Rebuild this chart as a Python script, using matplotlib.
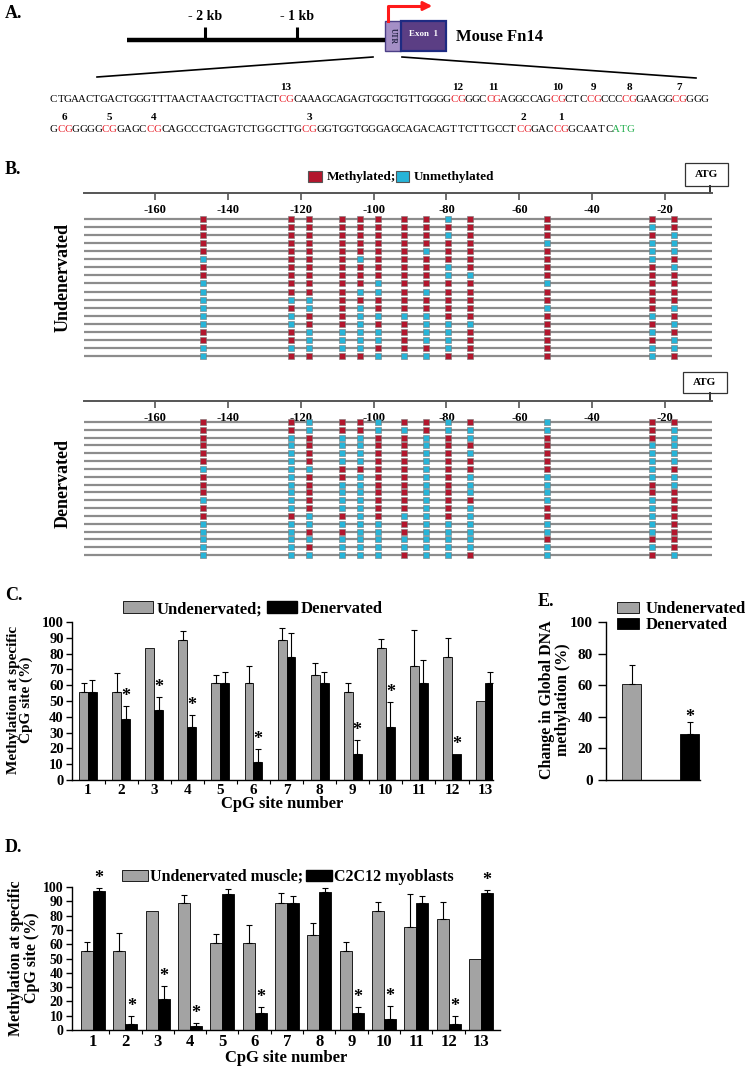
import re
import numpy as np
import matplotlib
matplotlib.use("Agg")
import matplotlib.pyplot as plt
from matplotlib.path import Path
from matplotlib.patches import Rectangle, Patch

plt.rcParams['font.family'] = ['Liberation Serif', 'DejaVu Serif']
plt.rcParams['font.weight'] = 'bold'
plt.rcParams['axes.labelweight'] = 'bold'
plt.rcParams['axes.linewidth'] = 1.0
plt.rcParams['axes.unicode_minus'] = False

W, H = 745, 1066

# ---------------- data ----------------
# A: promoter map (kb) and sequence
kb_ticks = [-2, -1]
kb_tick_labels = ['- 2 kb', '- 1 kb']
promoter_start_kb = -2.85
utr_kb = (-0.04, 0.13)
exon_kb = (0.13, 0.62)
seq_rows = ["CTGAACTGACTGGGTTTAACTAACTGCTTACTCGCAAAGCAGAGTGGCTGTTGGGGCGGGCCGAGGCCAGCGCTCCGCCCCGGAAGGCGGGG",
            "GCGGGGGCGGAGCCGCAGCCCTGAGTCTGGCTTGCGGGTGGTGGGAGCAGACAGTTCTTGCCTCGGACCGGCAATCATG"]

# B: CpG positions (bp from ATG), sites 13 -> 1, and clone calls (M/U) per site, 18 clones
ruler_ticks = [-160, -140, -120, -100, -80, -60, -40, -20]
cpg_bp = [-146.7, -122.6, -117.6, -108.8, -103.7, -98.7, -91.6, -85.6, -79.6, -73.6, -52.5, -23.7, -17.6]
undenervated_clones = [
    "MMMMMUMMUUUUUUMMUU",  # site 13
    "MMMMMMMMMMUMUUMMUM",  # 12
    "MMMMMMMMMMUUMMUUUM",  # 11
    "MMMMMMMMMMMMMMUUUM",  # 10
    "MMMMMUMMMUMUUUUUUM",  # 9
    "MMMMMMMMUUMMUMUUMU",  # 8
    "MMMMMMMMMMMMUMMMMU",  # 7
    "MMMMUMMMMUMMUUUUMU",  # 6
    "UMUMMMUUMMMMMUUUUM",  # 5
    "MMMMMMMUMMMMMUMMMM",  # 4
    "MMMUMMMMUMMUMMMMMM",  # 3
    "MUMUUUMMMMMMUMUMUU",  # 2
    "MMUUUMUMMMMUMUMUUM",  # 1
]
denervated_clones = [
    "MMMMMMUMMMUMMUUUUU",  # site 13
    "MMUUUUUUUUUUMUUUUU",  # 12
    "UUMMMMUMMMMMUUMUMU",  # 11
    "MMUUUUMMUUUUMUMUUU",  # 10
    "MMUUUUMUUUUUUUUUUU",  # 9
    "UUMMMMMMMMMMMUUUUU",  # 8
    "MUMMMMMMMMMMUMMUUM",  # 7
    "MMUUUUUUUUUUUUUUUU",  # 6
    "UUMMMMMMMMMMMUUUUU",  # 5
    "MUUMUMMUUUMUUUUUUM",  # 4
    "UUMMMMMUUUUMMUUMUU",  # 3
    "MMMUUUUUMMUUUUUMUM",  # 2
    "MUUUUUMUUMMMMMMMMU",  # 1
]

# C: site-specific methylation, undenervated vs denervated
sites = list(range(1, 14))
c_undenervated = [55.5, 55.5, 83.3, 88.9, 61.1, 61.1, 88.9, 66.7, 55.5, 83.3, 72.2, 77.8, 50.0]
c_undenervated_err = [6, 12, 0, 5.5, 5.5, 11, 7, 7.5, 6, 6, 23, 12, 0]
c_denervated = [55.5, 38.9, 44.4, 33.3, 61.1, 11.1, 77.8, 61.1, 16.7, 33.3, 61.1, 16.7, 61.1]
c_denervated_err = [8, 8, 8, 8, 7.5, 8.5, 15, 7.5, 8.5, 16, 15, 0, 7.5]
c_star = [2, 3, 4, 6, 9, 10, 12]

# D: undenervated muscle vs C2C12 myoblasts
d_muscle = [55.5, 55.5, 83.3, 88.9, 61.1, 61.1, 88.9, 66.7, 55.5, 83.3, 72.2, 77.8, 50.0]
d_muscle_err = [6, 12, 0, 5.5, 6, 12, 7, 8, 6, 6, 23, 12, 0]
d_c2c12 = [97.5, 4.5, 22, 2.5, 95, 12, 89, 96.5, 12, 7.5, 89, 4.5, 96]
d_c2c12_err = [2, 5.5, 9, 2.5, 3.5, 4, 5, 3, 4, 9.5, 4.5, 5.5, 2]
d_star = [1, 2, 3, 4, 6, 9, 10, 12, 13]

# E: global DNA methylation
e_groups = ['Undenervated', 'Denervated']
e_values = [61, 29]
e_err = [12, 8]
e_star = ['Denervated']

GREY = '#a3a3a3'
RED = '#b3162d'
CYAN = '#27b4d8'

fig = plt.figure(figsize=(W / 100, H / 100), dpi=100)


def px_axes(x0, y0, x1, y1):
    return fig.add_axes([x0 / W, 1 - y1 / H, (x1 - x0) / W, (y1 - y0) / H])


# ---------------- A: gene map ----------------
ga = px_axes(0, 0, W, 60)
ga.set_xlim(-389 / 92, (W - 389) / 92)
ga.set_ylim(60, 0)
ga.axis('off')
ga.plot([promoter_start_kb, utr_kb[0]], [40, 40], color='black', lw=3.2, solid_capstyle='butt')
ga.vlines(kb_ticks, 27, 40, color='black', lw=2.2)
for k, lab in zip(kb_ticks, kb_tick_labels):
    ga.text(k, 17, lab, ha='center', va='center', fontsize=10)
ga.add_patch(Rectangle((utr_kb[0], 21), utr_kb[1] - utr_kb[0], 30, fc='#a48fc6', ec='#4b3f86', lw=1))
ga.add_patch(Rectangle((exon_kb[0], 21), exon_kb[1] - exon_kb[0], 30, fc='#5b3e84', ec='#1e2b82', lw=1.6))
ga.text(sum(utr_kb) / 2, 36, 'UTR', rotation=-90, ha='center', va='center', fontsize=5.5, color='#222244')
ga.text(sum(exon_kb) / 2, 34, 'Exon  1', ha='center', va='center', fontsize=6.5, color='white')
ga.plot([-0.01, -0.01, 0.38], [21, 6, 6], color='#ff1a1a', lw=2.2)
ga.annotate('', xy=(0.5, 6), xytext=(0.36, 6),
            arrowprops=dict(arrowstyle='-|>', color='#ff1a1a', lw=2, mutation_scale=13))
ga.text(0.73, 37, 'Mouse Fn14', ha='left', va='center', fontsize=12)

# ---------------- overlay (labels, sequence, decorations) ----------------
ov = px_axes(0, 0, W, H)
ov.set_xlim(0, W)
ov.set_ylim(H, 0)
ov.axis('off')
ov.patch.set_visible(False)

for lab, x, y in [('A.', 5, 13), ('B.', 5, 170), ('C.', 5, 595), ('D.', 5, 848), ('E.', 538, 602)]:
    ov.text(x, y, lab, ha='left', va='center', fontsize=13)

ov.plot([373, 97], [57, 77], color='black', lw=1.2)
ov.plot([402, 696], [57, 78], color='black', lw=1.2)

cg_num = 13
for r, (seq, y) in enumerate(zip(seq_rows, [100, 130])):
    step = 7.15 if r == 0 else 7.4
    colors = ['black'] * len(seq)
    for m in re.finditer('CG', seq):
        colors[m.start()] = colors[m.start() + 1] = '#e8202a'
        ov.text(50 + (m.start() + 1) * step, y - 12, str(cg_num), ha='center', va='center', fontsize=8)
        cg_num -= 1
    if seq.endswith('ATG'):
        for i in range(len(seq) - 3, len(seq)):
            colors[i] = '#1fae4a'
    for i, ch in enumerate(seq):
        ov.text(50 + (i + 0.5) * step, y, ch, ha='center', va='center', fontsize=7.8,
                fontweight='normal', color=colors[i])

# legend for B
ov.add_patch(Rectangle((308, 171), 14, 11, fc=RED, ec='#555555', lw=0.8))
ov.text(327, 177, 'Methylated;', ha='left', va='center', fontsize=9.5)
ov.add_patch(Rectangle((396, 171), 13, 11, fc=CYAN, ec='#555555', lw=0.8))
ov.text(414, 177, 'Unmethylated', ha='left', va='center', fontsize=9.5)

# ---------------- B: methylation maps ----------------
BX0, BX1 = 84, 712.4
BP_LIM = (-179.5, -7)
mk = Path([(-0.4, -0.5), (0.4, -0.5), (0.4, 0.5), (-0.4, 0.5), (-0.4, -0.5)])


def methyl_panel(y_ruler, y_first, y_last, clones, label, label_y, atg):
    ruler = px_axes(BX0, y_ruler - 40, BX1, y_ruler)
    ruler.set_xlim(BP_LIM)
    ruler.set_ylim(0, 1)
    for s in ['top', 'left', 'right']:
        ruler.spines[s].set_visible(False)
    ruler.spines['bottom'].set_color('#555555')
    ruler.spines['bottom'].set_linewidth(1.4)
    ruler.patch.set_visible(False)
    ruler.set_yticks([])
    ruler.set_xticks(ruler_ticks)
    ruler.tick_params(axis='x', direction='out', length=5, width=1.2, color='#555555', labelsize=9, pad=3)

    n = len(clones[0])
    sp = (y_last - y_first) / (n - 1)
    rows = np.arange(1, n + 1)
    ax = px_axes(BX0, y_first - 8, BX1, y_last + 8)
    ax.set_xlim(BP_LIM)
    ax.set_ylim(n + 8 / sp, 1 - 8 / sp)
    ax.axis('off')
    ax.patch.set_visible(False)
    ax.hlines(rows, BP_LIM[0], BP_LIM[1], color='#8c8c8c', lw=1.6, zorder=1)
    mx, my, ux, uy = [], [], [], []
    for pos, calls in zip(cpg_bp, clones):
        for i, c in enumerate(calls):
            if c == 'M':
                mx.append(pos); my.append(i + 1)
            else:
                ux.append(pos); uy.append(i + 1)
    ax.scatter(mx, my, marker=mk, s=22, c=RED, edgecolors='#777777', linewidths=0.4, zorder=3)
    ax.scatter(ux, uy, marker=mk, s=22, c=CYAN, edgecolors='#777777', linewidths=0.4, zorder=3)

    ov.text(63, label_y, label, rotation=90, ha='center', va='center', fontsize=13)
    bx, by, bw, bh = atg
    ov.add_patch(Rectangle((bx, by), bw, bh, fc='white', ec='#333333', lw=0.9))
    ov.text(bx + bw / 2, by + bh / 2, 'ATG', ha='center', va='center', fontsize=8)
    ov.plot([710, 710], [by + bh, y_ruler], color='#333333', lw=1.4)


methyl_panel(193, 219, 356, undenervated_clones, 'Undenervated', 277, (685, 163, 43, 23))
methyl_panel(401, 422, 555, denervated_clones, 'Denervated', 483, (683, 372, 44, 21))


# ---------------- bar panels ----------------
def style_bar_axes(ax):
    ax.spines['top'].set_visible(False)
    ax.spines['right'].set_visible(False)
    ax.tick_params(axis='y', direction='out', length=4, width=1)


def bars(ax, x, vals, errs, width, offset, color, stars, star_size):
    x = np.asarray(x, float)
    vals = np.asarray(vals, float)
    errs = np.asarray(errs, float)
    ax.bar(x + offset, vals, width, color=color, edgecolor='black', linewidth=0.6, zorder=2)
    keep = errs > 0
    ax.errorbar(x[keep] + offset, vals[keep], yerr=[np.zeros(keep.sum()), errs[keep]], fmt='none',
                ecolor='black', elinewidth=0.8, capsize=2.2, capthick=0.8, zorder=3)
    for s in stars:
        i = list(x).index(s)
        ax.text(x[i] + offset, vals[i] + errs[i] + 0.5, '*', ha='center', va='bottom',
                fontsize=star_size, clip_on=False)


# C
cax = px_axes(72, 622, 493, 780)
style_bar_axes(cax)
cax.set_xlim(0.516, 13.24)
cax.set_ylim(0, 100)
cax.set_yticks(range(0, 101, 10))
cax.set_xticks(sites)
cax.set_xticks(np.arange(1.5, 13, 1), minor=True)
cax.tick_params(axis='x', which='major', length=0, labelsize=11, pad=3)
cax.tick_params(axis='x', which='minor', length=3, width=0.8)
cax.tick_params(axis='y', labelsize=10.5, pad=2)
bars(cax, sites, c_undenervated, c_undenervated_err, 0.27, -0.135, GREY, [], 13)
bars(cax, sites, c_denervated, c_denervated_err, 0.27, 0.135, 'black', c_star, 13)
cax.set_xlabel('CpG site number', fontsize=12, labelpad=-1)
cax.legend(handles=[Patch(fc=GREY, ec='black', lw=0.6), Patch(fc='black', ec='black')],
           labels=['Undenervated;', 'Denervated'], ncol=2, loc='center', bbox_to_anchor=(0.43, 1.082),
           frameon=False, fontsize=12, handlelength=1.8, handleheight=0.7, columnspacing=0.3,
           handletextpad=0.2, borderpad=0)
ov.text(20, 700, 'Methylation at specific\nCpG site (%)', rotation=90, ha='center', va='center',
        fontsize=11, linespacing=1.0, multialignment='center')

# D
dax = px_axes(72, 887, 500, 1030)
style_bar_axes(dax)
dax.set_xlim(0.35, 13.59)
dax.set_ylim(0, 100)
dax.set_yticks(range(0, 101, 10))
dax.set_xticks(sites)
dax.set_xticks(np.arange(1.5, 13, 1), minor=True)
dax.tick_params(axis='x', which='major', length=0, labelsize=12, pad=3)
dax.tick_params(axis='x', which='minor', length=3, width=0.8)
dax.tick_params(axis='y', labelsize=10, pad=2)
bars(dax, sites, d_muscle, d_muscle_err, 0.37, -0.185, GREY, [], 13)
bars(dax, sites, d_c2c12, d_c2c12_err, 0.37, 0.185, 'black', d_star, 13)
dax.set_xlabel('CpG site number', fontsize=12, labelpad=0)
dax.legend(handles=[Patch(fc=GREY, ec='black', lw=0.6), Patch(fc='black', ec='black')],
           labels=['Undenervated muscle;', 'C2C12 myoblasts'], ncol=2, loc='center',
           bbox_to_anchor=(0.505, 1.07), frameon=False, fontsize=11.5, handlelength=1.6,
           handleheight=0.7, columnspacing=0.2, handletextpad=0.15, borderpad=0)
ov.text(24, 958, 'Methylation at specific\nCpG site (%)', rotation=90, ha='center', va='center',
        fontsize=11.5, linespacing=1.0, multialignment='center')

# E
eax = px_axes(606, 622, 700, 780)
style_bar_axes(eax)
eax.set_xlim(-0.44, 1.18)
eax.set_ylim(0, 100)
eax.set_yticks(range(0, 101, 20))
eax.set_xticks([])
eax.tick_params(axis='y', labelsize=11, length=6)
ex = np.arange(len(e_groups))
for i, (g, v, e, col) in enumerate(zip(e_groups, e_values, e_err, [GREY, 'black'])):
    eax.bar(ex[i], v, 0.33, color=col, edgecolor='black', linewidth=0.6, label=g, zorder=2)
    eax.errorbar(ex[i], v, yerr=[[0], [e]], fmt='none', ecolor='black', elinewidth=0.8,
                 capsize=2.5, capthick=0.8, zorder=3)
    if g in e_star:
        eax.text(ex[i], v + e - 3, '*', ha='center', va='bottom', fontsize=13)
eax.legend(loc='upper left', bbox_to_anchor=(0.117, 1.13), frameon=False, fontsize=12,
           handlelength=1.3, handleheight=0.6, labelspacing=0.0, handletextpad=0.4, borderpad=0,
           borderaxespad=0)
ov.text(555, 700, 'Change in Global DNA\nmethylation (%)', rotation=90, ha='center', va='center',
        fontsize=11.5, linespacing=1.0, multialignment='center')

fig.savefig('out.png', dpi=100)
